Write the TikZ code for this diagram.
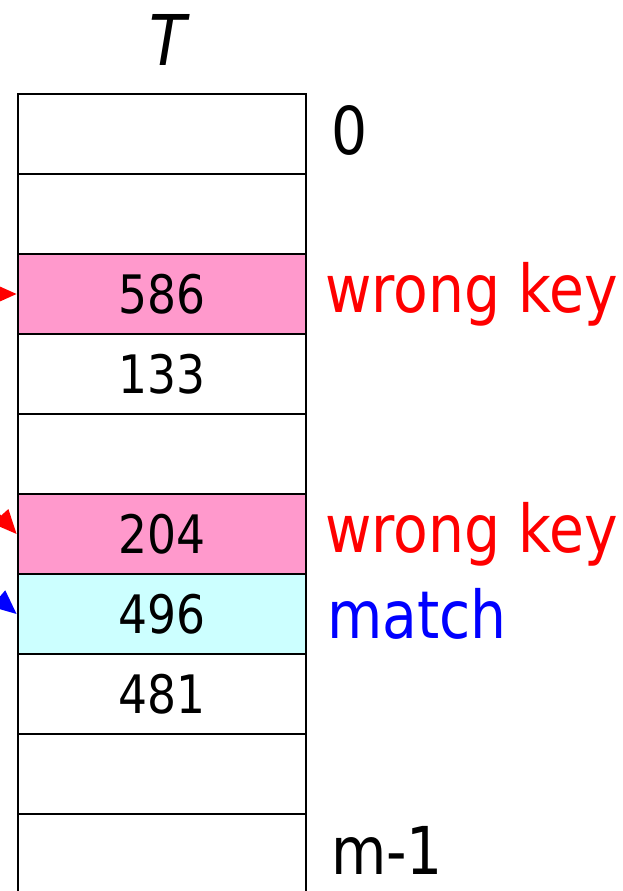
\documentclass[tikz,border=0pt]{standalone}
\usepackage{fontspec}
\setmainfont[FakeStretch=0.86]{DejaVu Sans}
\usepackage{tikz}
\usetikzlibrary{arrows.meta, positioning, calc}
\usepackage{xcolor}
\definecolor{hitPink}{HTML}{FF99CC}
\definecolor{hitCyan}{HTML}{CCFFFF}
\definecolor{keyRed}{HTML}{FF0000}
\definecolor{keyBlue}{HTML}{0000FF}

\tikzset{
    cell/.style={draw, line width=2.8pt, minimum width=288pt, minimum height=80pt,
        inner sep=0pt, font=\fontsize{53}{53}\selectfont},
    tag/.style={anchor=west, inner sep=0pt, font=\fontsize{66}{66}\selectfont},
    probe/.style={line width=2pt, -{Triangle[length=24pt, width=21pt]}}
}

\begin{document}
\begin{tikzpicture}[x=1pt, y=-1pt]
    \useasboundingbox (0,0) rectangle (622,891);
    \clip (0,0) rectangle (622,891);

    % Table
    \node[font=\fontsize{70}{70}\selectfont\itshape] (title) at (168,40) {T};
    \foreach \i/\val/\col in {0//white, 1//white, 2/586/hitPink, 3/133/white, 4//white,
                              5/204/hitPink, 6/496/hitCyan, 7/481/white, 8//white, 9//white} {
        \node[cell, fill=\col] (c\i) at (162, 134+80*\i) {\val};
    }

    % Indices
    \node[tag] (first) at (331,130) {0};
    \node[tag] (last) at (331,850) {m-1};

    % Labels
    \node[tag, text=keyRed] (wrong1) at (325,294) {wrong key};
    \node[tag, text=keyRed] (wrong2) at (325,534) {wrong key};
    \node[tag, text=keyBlue] (found) at (327,614) {match};

    % Probes
    \coordinate (in1) at (-100,294);
    \coordinate (in2) at (-50,461);
    \coordinate (in3) at (-59,550);
    \draw[probe, keyRed] (in1) -- (c2.west);
    \draw[probe, keyRed] (in2) -- (c5.west);
    \draw[probe, keyBlue] (in3) -- (c6.west);
\end{tikzpicture}
\end{document}
